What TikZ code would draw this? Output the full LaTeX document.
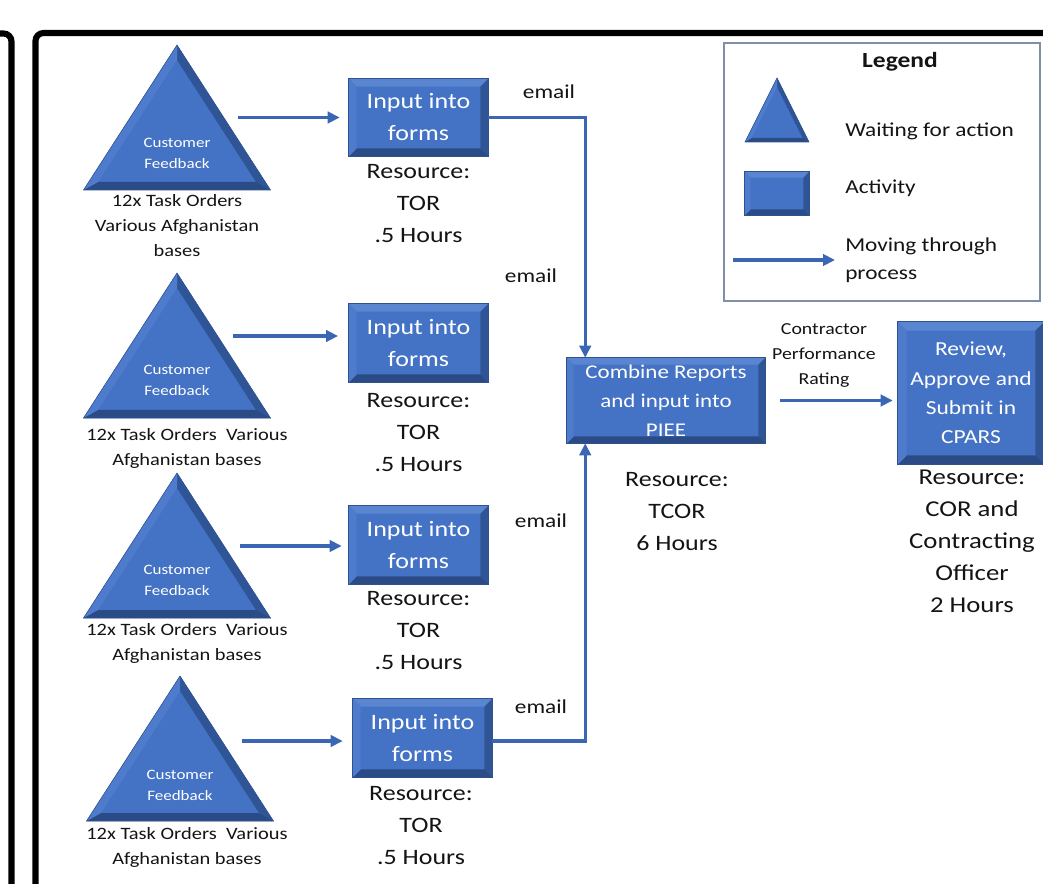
\documentclass[tikz,border=0pt]{standalone}
\usepackage{fontspec}
\setmainfont{Carlito}[FakeStretch=1.18]
\usetikzlibrary{arrows.meta,backgrounds,calc}
\definecolor{face}{HTML}{4472C4}
\definecolor{bvtopc}{HTML}{5A85D0}
\definecolor{bvleftc}{HTML}{4E7BCC}
\definecolor{bvrightc}{HTML}{2F5597}
\definecolor{bvbotc}{HTML}{2A4B86}
\definecolor{edgec}{HTML}{2F528F}
\definecolor{flowc}{HTML}{3B66B3}
\definecolor{legc}{HTML}{7F8FA9}
\definecolor{txtc}{HTML}{141414}
\newcommand\fRes{\fontsize{16.5pt}{24pt}\selectfont}
\newcommand\fBox{\fontsize{16.5pt}{24pt}\selectfont}
\newcommand\fCmb{\fontsize{14.6pt}{21.75pt}\selectfont}
\newcommand\fRev{\fontsize{14.9pt}{22pt}\selectfont}
\newcommand\fRevR{\fontsize{17pt}{24pt}\selectfont}
\newcommand\fMail{\fontsize{14.8pt}{18pt}\selectfont}
\newcommand\fLab{\fontsize{13pt}{18.75pt}\selectfont}
\newcommand\fCF{\fontsize{10.8pt}{15.75pt}\selectfont}
\newcommand\fCPR{\fontsize{12.6pt}{18.75pt}\selectfont}
\newcommand\fLeg{\fontsize{14.8pt}{21pt}\selectfont}
\newcommand\fLegT{\bfseries\fontsize{16.2pt}{20pt}\selectfont}
\newcommand\bev[2]{%
\begin{scope}[on background layer]
\fill[face] (#1.north west) rectangle (#1.south east);
\fill[bvtopc] (#1.north west) -- (#1.north east) -- ([shift={(-#2,#2)}]#1.north east) -- ([shift={(#2,#2)}]#1.north west) -- cycle;
\fill[bvrightc] (#1.north east) -- (#1.south east) -- ([shift={(-#2,-#2)}]#1.south east) -- ([shift={(-#2,#2)}]#1.north east) -- cycle;
\fill[bvbotc] (#1.south east) -- (#1.south west) -- ([shift={(#2,-#2)}]#1.south west) -- ([shift={(-#2,-#2)}]#1.south east) -- cycle;
\fill[bvleftc] (#1.south west) -- (#1.north west) -- ([shift={(#2,#2)}]#1.north west) -- ([shift={(#2,-#2)}]#1.south west) -- cycle;
\draw[edgec,line width=0.5pt] (#1.north west) rectangle (#1.south east);
\end{scope}}
% bevelled triangle: apex x, apex y, half width, height, apex inset, base inset, inner half width
\newcommand\btri[7]{%
\begin{scope}[shift={(#1,#2)}]
\fill[face] (0,0) -- (#3,#4) -- (-#3,#4) -- cycle;
\fill[bvrightc] (0,0) -- (#3,#4) -- (#7,#4-#6) -- (0,#5) -- cycle;
\fill[bvbotc] (#3,#4) -- (-#3,#4) -- (-#7,#4-#6) -- (#7,#4-#6) -- cycle;
\fill[bvleftc] (-#3,#4) -- (0,0) -- (0,#5) -- (-#7,#4-#6) -- cycle;
\draw[edgec,line width=0.4pt] (0,0) -- (#3,#4) -- (-#3,#4) -- cycle;
\end{scope}}
\tikzset{
  actbox/.style n args={2}{rectangle, inner sep=0pt, align=center, text=white,
    minimum width=#1*0.75pt, minimum height=#2*0.75pt},
  plain/.style={align=center, text=txtc, inner sep=0pt},
  flow/.style={draw=flowc, line width=2.3pt, -{Triangle[length=9pt,width=8.5pt]}},
  flowline/.style={draw=flowc, line width=2.3pt},
  framec/.style={draw=black, line width=4.6pt, rounded corners=6pt},
}
\begin{document}
\begin{tikzpicture}[x=0.75pt, y=-0.75pt]
\useasboundingbox (0,0) rectangle (1043,884);
% frames
\draw[framec] (-10,33.5) -- (11.5,33.5) -- (11.5,900);
\draw[framec] (35.5,900) -- (35.5,33) -- (1060,33);

% triangles
\btri{177}{45}{93.5}{145}{15}{8}{79}
\btri{177}{273}{93.5}{145}{15}{8}{79}
\btri{177}{473}{93.5}{145}{15}{8}{79}
\btri{180}{676}{93.5}{145}{15}{8}{79}
\node[plain, text=white, font=\fCF] (t1) at (177,153.5) {Customer\\Feedback};
\node[plain, text=white, font=\fCF] (t2) at (177,380.5) {Customer\\Feedback};
\node[plain, text=white, font=\fCF] (t3) at (177,580.5) {Customer\\Feedback};
\node[plain, text=white, font=\fCF] (t4) at (180,785.5) {Customer\\Feedback};
\node[plain, font=\fLab] (l1) at (177,226) {12x Task Orders\\Various Afghanistan\\bases};
\node[plain, font=\fLab] (l2) at (187,448) {12x Task Orders\ \ Various\\Afghanistan bases};
\node[plain, font=\fLab] (l3) at (187,643) {12x Task Orders\ \ Various\\Afghanistan bases};
\node[plain, font=\fLab] (l4) at (187,847.5) {12x Task Orders\ \ Various\\Afghanistan bases};

% input boxes
\node[actbox={139}{77}, font=\fBox] (b1) at (418.5,117.5) {Input into\\forms};
\node[actbox={139}{78}, font=\fBox] (b2) at (418.5,343) {Input into\\forms};
\node[actbox={139}{78}, font=\fBox] (b3) at (418.5,545) {Input into\\forms};
\node[actbox={139}{78}, font=\fBox] (b4) at (422.5,738) {Input into\\forms};
\bev{b1}{8}\bev{b2}{8}\bev{b3}{8}\bev{b4}{8}
\node[plain, font=\fRes] (r1) at (418.5,204) {Resource:\\TOR\\.5 Hours};
\node[plain, font=\fRes] (r2) at (418.5,433) {Resource:\\TOR\\.5 Hours};
\node[plain, font=\fRes] (r3) at (418.5,631) {Resource:\\TOR\\.5 Hours};
\node[plain, font=\fRes] (r4) at (421,826) {Resource:\\TOR\\.5 Hours};

% combine and review
\node[actbox={198}{85}, font=\fCmb] (cmb) at (666,400.5) {Combine Reports\\and input into\\PIEE};
\bev{cmb}{7}
\node[plain, font=\fRes] (rc) at (677,512) {Resource:\\TCOR\\6 Hours};
\node[actbox={146}{142}, font=\fRev] (rev) at (971,393) {Review,\\Approve and\\Submit in\\CPARS};
\bev{rev}{9}
\node[plain, font=\fRevR] (rr) at (972,541.5) {Resource:\\COR and\\Contracting\\Officer\\2 Hours};
\node[plain, font=\fCPR] (cpr) at (824,355) {Contractor\\Performance\\Rating};

% connectors triangle -> box
\coordinate (s1) at (238,117.5);
\coordinate (s2) at (233,336);
\coordinate (s3) at (240,546);
\coordinate (s4) at (242,741);
\draw[flow, shorten >=6.75pt] (s1) -- (s1 -| b1.west);
\draw[flow, shorten >=8pt] (s2) -- (s2 -| b2.west);
\draw[flow, shorten >=5.25pt] (s3) -- (s3 -| b3.west);
\draw[flow, shorten >=7.5pt] (s4) -- (s4 -| b4.west);

% email connectors
\coordinate (jx) at ($(cmb.north west)+(18.5,0)$);
\draw[flow] (b1.east) -| (jx);
\draw[flowline] ($(b2.east)+(0,-7)$) -- ($(b2.east)+(0,-7)$ -| jx);
\draw[flowline] ($(b3.east)+(0,5)$) -- ($(b3.east)+(0,5)$ -| jx);
\draw[flow] ($(b4.east)+(0,3)$) -| ($(cmb.south west)+(18.5,0)$);
\node[plain, font=\fMail] (e1) at (549,92) {email};
\node[plain, font=\fMail] (e2) at (531,276) {email};
\node[plain, font=\fMail] (e3) at (541,521) {email};
\node[plain, font=\fMail] (e4) at (541,707) {email};

\draw[flow, shorten <=11.25pt, shorten >=3.75pt] (cmb.east) -- (cmb.east -| rev.west);

% legend
\draw[legc, line width=1.2pt] (724,43) rectangle (1040,301);
\node[plain, font=\fLegT] (lg) at (900,62) {Legend};
\btri{777}{78}{32}{64}{9}{4}{25.5}
\node[plain, font=\fLeg, anchor=west] (lw) at (845,131) {Waiting for action};
\node[actbox={64}{43}] (lbox) at (777,193.5) {};
\bev{lbox}{6}
\node[plain, font=\fLeg, anchor=west] (la) at (845,188) {Activity};
\node[plain, font=\fLeg, anchor=west, align=left] (lm) at (845,260) {Moving through\\process};
\coordinate (lms) at (733,260);
\draw[flow, shorten >=7.5pt] (lms) -- (lms -| lm.west);
\end{tikzpicture}
\end{document}
